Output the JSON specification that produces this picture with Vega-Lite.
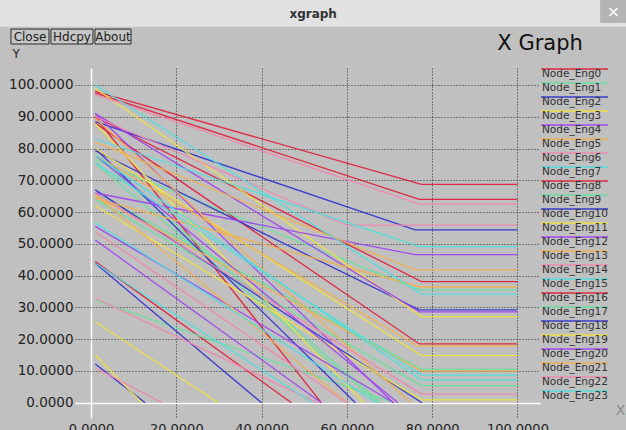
{
  "$schema": "https://vega.github.io/schema/vega-lite/v6.json",
  "width": 465,
  "height": 350,
  "autosize": {"type": "none"},
  "padding": {"left": 75, "top": 68, "right": 86, "bottom": 12},
  "background": "#c0c0c0",
  "config": {"view": {"stroke": null}, "font": "DejaVu Sans"},
  "resolve": {"axis": {"x": "independent", "y": "independent"}},
  "datasets": {
    "energy": [
      {"node": "Node_Eng0", "trace": 0, "x": 1, "y": 98}, {"node": "Node_Eng0", "trace": 0, "x": 77.5, "y": 68.7}, {"node": "Node_Eng0", "trace": 0, "x": 100, "y": 68.7},
      {"node": "Node_Eng0", "trace": 24, "x": 1, "y": 88}, {"node": "Node_Eng0", "trace": 24, "x": 77, "y": 18.5}, {"node": "Node_Eng0", "trace": 24, "x": 100, "y": 18.5},
      {"node": "Node_Eng8", "trace": 8, "x": 1, "y": 97.5}, {"node": "Node_Eng8", "trace": 8, "x": 77, "y": 64.0}, {"node": "Node_Eng8", "trace": 8, "x": 100, "y": 64.0},
      {"node": "Node_Eng8", "trace": 32, "x": 1, "y": 44.4}, {"node": "Node_Eng8", "trace": 32, "x": 47, "y": 0},
      {"node": "Node_Eng16", "trace": 16, "x": 1, "y": 90}, {"node": "Node_Eng16", "trace": 16, "x": 77.5, "y": 38.1}, {"node": "Node_Eng16", "trace": 16, "x": 100, "y": 38.1},
      {"node": "Node_Eng16", "trace": 40, "x": 1, "y": 90}, {"node": "Node_Eng16", "trace": 40, "x": 54, "y": 0},
      {"node": "Node_Eng1", "trace": 1, "x": 1, "y": 76.4}, {"node": "Node_Eng1", "trace": 1, "x": 77, "y": 35.5}, {"node": "Node_Eng1", "trace": 1, "x": 100, "y": 35.5},
      {"node": "Node_Eng1", "trace": 25, "x": 1, "y": 32.3}, {"node": "Node_Eng1", "trace": 25, "x": 71, "y": 0},
      {"node": "Node_Eng9", "trace": 9, "x": 1, "y": 66}, {"node": "Node_Eng9", "trace": 9, "x": 77.5, "y": 10.5}, {"node": "Node_Eng9", "trace": 9, "x": 100, "y": 10.5},
      {"node": "Node_Eng9", "trace": 33, "x": 1, "y": 75.4}, {"node": "Node_Eng9", "trace": 33, "x": 67.3, "y": 0},
      {"node": "Node_Eng17", "trace": 17, "x": 1, "y": 64}, {"node": "Node_Eng17", "trace": 17, "x": 77.5, "y": 5.4}, {"node": "Node_Eng17", "trace": 17, "x": 100, "y": 5.4},
      {"node": "Node_Eng17", "trace": 41, "x": 1, "y": 78}, {"node": "Node_Eng17", "trace": 41, "x": 68, "y": 0},
      {"node": "Node_Eng2", "trace": 2, "x": 1, "y": 88.5}, {"node": "Node_Eng2", "trace": 2, "x": 76, "y": 54.4}, {"node": "Node_Eng2", "trace": 2, "x": 100, "y": 54.4},
      {"node": "Node_Eng2", "trace": 26, "x": 1, "y": 43.9}, {"node": "Node_Eng2", "trace": 26, "x": 40, "y": 0},
      {"node": "Node_Eng10", "trace": 10, "x": 1, "y": 79.3}, {"node": "Node_Eng10", "trace": 10, "x": 77, "y": 29.2}, {"node": "Node_Eng10", "trace": 10, "x": 100, "y": 29.2},
      {"node": "Node_Eng10", "trace": 34, "x": 1, "y": 67}, {"node": "Node_Eng10", "trace": 34, "x": 77.6, "y": 0},
      {"node": "Node_Eng18", "trace": 18, "x": 1, "y": 12.2}, {"node": "Node_Eng18", "trace": 18, "x": 12.7, "y": 0},
      {"node": "Node_Eng18", "trace": 42, "x": 1, "y": 80}, {"node": "Node_Eng18", "trace": 42, "x": 62, "y": 0},
      {"node": "Node_Eng3", "trace": 3, "x": 1, "y": 99}, {"node": "Node_Eng3", "trace": 3, "x": 77.5, "y": 27.1}, {"node": "Node_Eng3", "trace": 3, "x": 100, "y": 27.1},
      {"node": "Node_Eng3", "trace": 27, "x": 1, "y": 15}, {"node": "Node_Eng3", "trace": 27, "x": 11.9, "y": 0},
      {"node": "Node_Eng11", "trace": 11, "x": 1, "y": 80}, {"node": "Node_Eng11", "trace": 11, "x": 77.5, "y": 14.8}, {"node": "Node_Eng11", "trace": 11, "x": 100, "y": 14.8},
      {"node": "Node_Eng11", "trace": 35, "x": 1, "y": 25.5}, {"node": "Node_Eng11", "trace": 35, "x": 29.8, "y": 0},
      {"node": "Node_Eng19", "trace": 19, "x": 1, "y": 62}, {"node": "Node_Eng19", "trace": 19, "x": 77.5, "y": 0.9}, {"node": "Node_Eng19", "trace": 19, "x": 100, "y": 0.9},
      {"node": "Node_Eng19", "trace": 43, "x": 1, "y": 87.8}, {"node": "Node_Eng19", "trace": 43, "x": 64, "y": 0},
      {"node": "Node_Eng4", "trace": 4, "x": 1, "y": 66}, {"node": "Node_Eng4", "trace": 4, "x": 76, "y": 46.6}, {"node": "Node_Eng4", "trace": 4, "x": 100, "y": 46.6},
      {"node": "Node_Eng4", "trace": 28, "x": 1, "y": 55.5}, {"node": "Node_Eng4", "trace": 28, "x": 71, "y": 0},
      {"node": "Node_Eng12", "trace": 12, "x": 1, "y": 91}, {"node": "Node_Eng12", "trace": 12, "x": 77, "y": 28.6}, {"node": "Node_Eng12", "trace": 12, "x": 100, "y": 28.6},
      {"node": "Node_Eng12", "trace": 36, "x": 1, "y": 91}, {"node": "Node_Eng12", "trace": 36, "x": 70.9, "y": 0},
      {"node": "Node_Eng20", "trace": 20, "x": 1, "y": 51.2}, {"node": "Node_Eng20", "trace": 20, "x": 54, "y": 0},
      {"node": "Node_Eng20", "trace": 44, "x": 1, "y": 78}, {"node": "Node_Eng20", "trace": 44, "x": 72, "y": 0},
      {"node": "Node_Eng5", "trace": 5, "x": 1, "y": 82}, {"node": "Node_Eng5", "trace": 5, "x": 76, "y": 41.8}, {"node": "Node_Eng5", "trace": 5, "x": 100, "y": 41.8},
      {"node": "Node_Eng5", "trace": 29, "x": 1, "y": 65}, {"node": "Node_Eng5", "trace": 29, "x": 77.5, "y": 10.0}, {"node": "Node_Eng5", "trace": 29, "x": 100, "y": 10.0},
      {"node": "Node_Eng13", "trace": 13, "x": 1, "y": 64.3}, {"node": "Node_Eng13", "trace": 13, "x": 77, "y": 36.5}, {"node": "Node_Eng13", "trace": 13, "x": 100, "y": 36.5},
      {"node": "Node_Eng13", "trace": 37, "x": 1, "y": 65.4}, {"node": "Node_Eng13", "trace": 37, "x": 60, "y": 0},
      {"node": "Node_Eng21", "trace": 21, "x": 1, "y": 78}, {"node": "Node_Eng21", "trace": 21, "x": 76.5, "y": 17.9}, {"node": "Node_Eng21", "trace": 21, "x": 100, "y": 17.9},
      {"node": "Node_Eng21", "trace": 45, "x": 1, "y": 89.5}, {"node": "Node_Eng21", "trace": 45, "x": 75, "y": 0},
      {"node": "Node_Eng6", "trace": 6, "x": 1, "y": 97}, {"node": "Node_Eng6", "trace": 6, "x": 77, "y": 62.5}, {"node": "Node_Eng6", "trace": 6, "x": 100, "y": 62.5},
      {"node": "Node_Eng6", "trace": 30, "x": 1, "y": 11}, {"node": "Node_Eng6", "trace": 30, "x": 16.6, "y": 0},
      {"node": "Node_Eng14", "trace": 14, "x": 1, "y": 66}, {"node": "Node_Eng14", "trace": 14, "x": 77.5, "y": 2.7}, {"node": "Node_Eng14", "trace": 14, "x": 100, "y": 2.7},
      {"node": "Node_Eng14", "trace": 38, "x": 1, "y": 32.9}, {"node": "Node_Eng14", "trace": 38, "x": 53, "y": 0},
      {"node": "Node_Eng22", "trace": 22, "x": 1, "y": 90}, {"node": "Node_Eng22", "trace": 22, "x": 60, "y": 55.9}, {"node": "Node_Eng22", "trace": 22, "x": 100, "y": 55.9},
      {"node": "Node_Eng22", "trace": 46, "x": 1, "y": 53.8}, {"node": "Node_Eng22", "trace": 46, "x": 60, "y": 0},
      {"node": "Node_Eng7", "trace": 7, "x": 1, "y": 100}, {"node": "Node_Eng7", "trace": 7, "x": 77.5, "y": 34.2}, {"node": "Node_Eng7", "trace": 7, "x": 100, "y": 34.2},
      {"node": "Node_Eng7", "trace": 31, "x": 1, "y": 78}, {"node": "Node_Eng7", "trace": 31, "x": 77.5, "y": 7.1}, {"node": "Node_Eng7", "trace": 31, "x": 100, "y": 7.1},
      {"node": "Node_Eng15", "trace": 15, "x": 1, "y": 83}, {"node": "Node_Eng15", "trace": 15, "x": 77, "y": 49.1}, {"node": "Node_Eng15", "trace": 15, "x": 100, "y": 49.1},
      {"node": "Node_Eng15", "trace": 39, "x": 1, "y": 43.9}, {"node": "Node_Eng15", "trace": 39, "x": 52, "y": 0},
      {"node": "Node_Eng23", "trace": 23, "x": 1, "y": 75.4}, {"node": "Node_Eng23", "trace": 23, "x": 77.5, "y": 8.7}, {"node": "Node_Eng23", "trace": 23, "x": 100, "y": 8.7},
      {"node": "Node_Eng23", "trace": 47, "x": 1, "y": 56.6}, {"node": "Node_Eng23", "trace": 47, "x": 67, "y": 0}
    ]
  },
  "layer": [
    {
      "data": {"name": "energy"},
      "mark": {"type": "line", "strokeWidth": 1.3, "opacity": 0.95},
      "encoding": {
        "x": {
          "field": "x", "type": "quantitative",
          "scale": {"domain": [-3.75, 105.3], "nice": false, "zero": false},
          "axis": {
            "values": [0, 20, 40, 60, 80, 100], "format": ".4f", "domain": false, "ticks": false,
            "grid": true, "labelOverlap": false,
            "gridColor": {"condition": {"test": "datum.value === 0", "value": "#ffffff"}, "value": "#2a2a2a"},
            "gridDash": {"condition": {"test": "datum.value === 0", "value": []}, "value": [1, 2]},
            "gridWidth": {"condition": {"test": "datum.value === 0", "value": 1.5}, "value": 1},
            "gridOpacity": 1,
            "labelFontSize": 13, "labelColor": "#222222", "labelPadding": 4, "labelFont": "DejaVu Sans",
            "title": "X", "titleX": 545, "titleY": -8, "titleAlign": "center", "titleBaseline": "middle",
            "titleFontSize": 14, "titleFontWeight": "normal", "titleColor": "#888888"
          }
        },
        "y": {
          "field": "y", "type": "quantitative",
          "scale": {"domain": [-4.82, 105.35], "nice": false, "zero": false},
          "axis": {
            "values": [0, 10, 20, 30, 40, 50, 60, 70, 80, 90, 100], "format": ".4f", "domain": false, "ticks": false,
            "grid": true, "labelOverlap": false, "labelFlush": false,
            "gridColor": {"condition": {"test": "datum.value === 0", "value": "#ffffff"}, "value": "#2a2a2a"},
            "gridDash": {"condition": {"test": "datum.value === 0", "value": []}, "value": [1, 2]},
            "gridWidth": {"condition": {"test": "datum.value === 0", "value": 1.5}, "value": 1},
            "gridOpacity": 1,
            "labelFontSize": 13.5, "labelColor": "#222222", "labelPadding": 2, "labelFont": "DejaVu Sans",
            "title": "Y", "titleAngle": 0, "titleX": -63, "titleY": -15, "titleAlign": "left", "titleBaseline": "middle",
            "titleFontSize": 12, "titleFontWeight": "normal", "titleColor": "#222222"
          }
        },
        "color": {
          "field": "node", "type": "nominal",
          "scale": {
            "domain": ["Node_Eng0", "Node_Eng1", "Node_Eng2", "Node_Eng3", "Node_Eng4", "Node_Eng5", "Node_Eng6", "Node_Eng7", "Node_Eng8", "Node_Eng9", "Node_Eng10", "Node_Eng11", "Node_Eng12", "Node_Eng13", "Node_Eng14", "Node_Eng15", "Node_Eng16", "Node_Eng17", "Node_Eng18", "Node_Eng19", "Node_Eng20", "Node_Eng21", "Node_Eng22", "Node_Eng23"],
            "range": ["#e0203c", "#66e0a0", "#3434d0", "#f0e040", "#a044f0", "#f0b050", "#f088b0", "#50dede", "#e0203c", "#66e0a0", "#3434d0", "#f0e040", "#a044f0", "#f0b050", "#f088b0", "#50dede", "#e0203c", "#66e0a0", "#3434d0", "#f0e040", "#a044f0", "#f0b050", "#f088b0", "#50dede"]
          },
          "legend": {
            "orient": "none", "legendX": 465, "legendY": -2.5, "title": null,
            "symbolType": "stroke", "symbolSize": 7400, "symbolStrokeWidth": 1.5,
            "clipHeight": 7, "rowPadding": 0, "labelOffset": -86, "labelBaseline": "top",
            "labelFontSize": 10.5, "labelColor": "#333333", "labelFont": "DejaVu Sans", "labelLimit": 0
          }
        },
        "detail": {"field": "trace", "type": "nominal"}
      }
    },
    {
      "data": {"values": [{}]},
      "mark": {"type": "rect", "color": "#e2e2e2"},
      "encoding": {"x": {"datum": -30, "axis": null}, "x2": {"datum": 135}, "y": {"datum": 135, "axis": null}, "y2": {"datum": 118.3}}
    },
    {
      "data": {"values": [{}]},
      "mark": {"type": "rect", "color": "#b4b4b4"},
      "encoding": {"x": {"datum": 119.4, "axis": null}, "x2": {"datum": 135}, "y": {"datum": 135, "axis": null}, "y2": {"datum": 119.5}}
    },
    {
      "data": {"values": [{}]},
      "mark": {"type": "text", "text": "×", "color": "#ffffff", "fontSize": 16, "align": "center", "baseline": "middle"},
      "encoding": {"x": {"datum": 122.5, "axis": null}, "y": {"datum": 122.9, "axis": null}}
    },
    {
      "data": {"values": [{}]},
      "mark": {"type": "text", "text": "xgraph", "color": "#333333", "fontSize": 12, "fontWeight": "bold", "align": "center", "baseline": "middle"},
      "encoding": {"x": {"datum": 52.1, "axis": null}, "y": {"datum": 122.4, "axis": null}}
    },
    {
      "data": {"values": [{}]},
      "mark": {"type": "text", "text": "X Graph", "color": "#111111", "fontSize": 21, "align": "left", "baseline": "middle"},
      "encoding": {"x": {"datum": 95.3, "axis": null}, "y": {"datum": 112.9, "axis": null}}
    },
    {
      "data": {"values": [{"b": "Close", "x1": -18.77, "x2": -9.85, "xc": -14.31}, {"b": "Hdcpy", "x1": -9.38, "x2": 0.47, "xc": -4.46}, {"b": "About", "x1": 0.94, "x2": 9.38, "xc": 5.16}]},
      "layer": [
        {
          "mark": {"type": "rect", "fill": "#c6c6c6", "stroke": "#2a2a2a", "strokeWidth": 1},
          "encoding": {"x": {"field": "x1", "type": "quantitative", "axis": null}, "x2": {"field": "x2"}, "y": {"datum": 117.6, "axis": null}, "y2": {"datum": 112.9}}
        },
        {
          "mark": {"type": "text", "color": "#222222", "fontSize": 12, "align": "center", "baseline": "middle"},
          "encoding": {"x": {"field": "xc", "type": "quantitative", "axis": null}, "y": {"datum": 115.2, "axis": null}, "text": {"field": "b"}}
        }
      ]
    }
  ]
}
